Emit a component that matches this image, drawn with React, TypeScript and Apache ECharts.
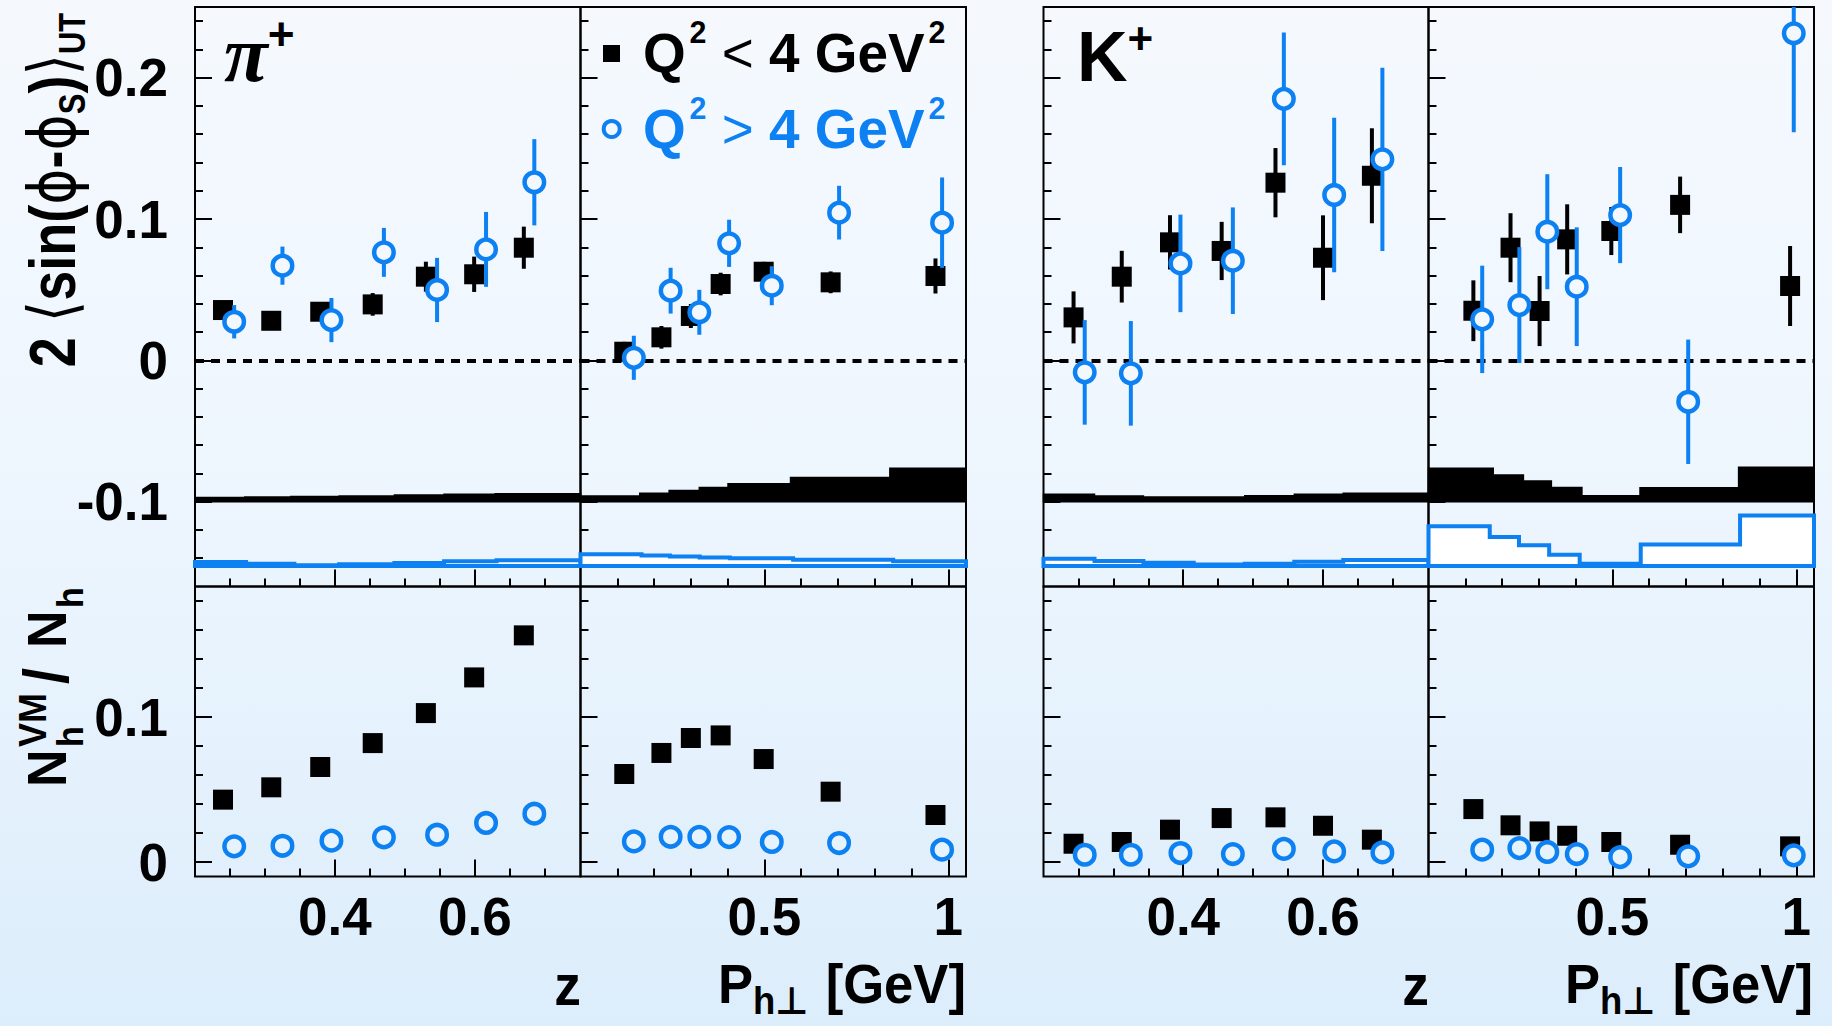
import React, { useEffect, useRef } from "react";
import * as echarts from "echarts";

const BLUE = "#0d80f2";
const SANS = "'Liberation Sans', Arial, 'DejaVu Sans', sans-serif";
const NARROW = "'Liberation Sans Narrow', 'Liberation Sans', Arial, sans-serif";
const SYM = "'DejaVu Sans', 'Liberation Sans', sans-serif";
const SERIF = "'Liberation Serif', 'DejaVu Serif', serif";

// ---------- tick values ----------
const yTopMajor = [-0.1, 0, 0.1, 0.2];
const yTopMinor = [-0.14, -0.12, -0.08, -0.06, -0.04, -0.02, 0.02, 0.04, 0.06, 0.08, 0.12, 0.14, 0.16, 0.18, 0.22, 0.24];
const yBotMajor = [0, 0.1];
const yBotMinor = [0.02, 0.04, 0.06, 0.08, 0.12, 0.14, 0.16, 0.18];
const zMajor = [0.4, 0.6];
const zMinor = [0.25, 0.3, 0.35, 0.45, 0.5, 0.55, 0.65, 0.7];
const pMajor = [0.5, 1];
const pMinor = [0.1, 0.2, 0.3, 0.4, 0.6, 0.7, 0.8, 0.9];

// ---------- pi+ vs z ----------
const piZBlackX = [0.24, 0.309, 0.379, 0.454, 0.53, 0.599, 0.67];
const piZBlackA = [0.0356, 0.028, 0.0344, 0.0396, 0.0592, 0.0609, 0.0797];
const piZBlackE = [0.003, 0.003, 0.005, 0.008, 0.0106, 0.0125, 0.0149];
const piZBlueX = [0.256, 0.325, 0.395, 0.47, 0.546, 0.616, 0.685];
const piZBlueA = [0.0273, 0.067, 0.0285, 0.0764, 0.0498, 0.0785, 0.126];
const piZBlueE = [0.0118, 0.0135, 0.0156, 0.0173, 0.0227, 0.0265, 0.0305];
const piZBlackR = [0.043, 0.0515, 0.0655, 0.082, 0.1027, 0.1273, 0.1563];
const piZBlueR = [0.0108, 0.0112, 0.0147, 0.017, 0.0188, 0.0269, 0.0333];
const piZSysEdgesBlack = [0.2, 0.271, 0.337, 0.406, 0.485, 0.556, 0.629, 0.751];
const piZSysBlack = [0.003, 0.0033, 0.0037, 0.004, 0.0047, 0.0052, 0.0056];
const piZSysEdgesBlue = [0.2, 0.273, 0.342, 0.406, 0.485, 0.556, 0.631, 0.751];
const piZSysBlue = [0.0028, 0.0016, 0.0006, 0.0013, 0.0021, 0.0033, 0.004];

// ---------- pi+ vs Ph ----------
const piPBlackX = [0.119, 0.22, 0.3, 0.381, 0.498, 0.68, 0.965];
const piPBlackA = [0.0061, 0.0163, 0.0314, 0.054, 0.0627, 0.0552, 0.0597];
const piPBlackE = [0.007, 0.008, 0.0085, 0.008, 0.007, 0.0077, 0.0124];
const piPBlueX = [0.145, 0.245, 0.323, 0.404, 0.52, 0.703, 0.983];
const piPBlueA = [0.0018, 0.0493, 0.034, 0.0828, 0.0528, 0.1045, 0.0974];
const piPBlueE = [0.0156, 0.0162, 0.0159, 0.0167, 0.0138, 0.019, 0.032];
const piPBlackR = [0.0607, 0.0752, 0.0855, 0.0873, 0.071, 0.0485, 0.0324];
const piPBlueR = [0.0142, 0.0174, 0.0174, 0.0172, 0.0138, 0.0131, 0.0085];
const piPSysEdgesBlack = [0, 0.161, 0.241, 0.323, 0.401, 0.571, 0.841, 1.048];
const piPSysBlack = [0.004, 0.0059, 0.008, 0.0101, 0.0127, 0.0172, 0.0236];
const piPSysEdgesBlue = [0, 0.166, 0.243, 0.324, 0.406, 0.578, 0.85, 1.048];
const piPSysBlue = [0.0084, 0.0075, 0.0068, 0.006, 0.0054, 0.0045, 0.0033];

// ---------- K+ vs z ----------
const kZBlackX = [0.243, 0.312, 0.381, 0.455, 0.532, 0.6, 0.67];
const kZBlackA = [0.0304, 0.0592, 0.0835, 0.0774, 0.1257, 0.0726, 0.1306];
const kZBlackE = [0.0184, 0.0183, 0.0192, 0.0206, 0.0245, 0.03, 0.0336];
const kZBlueX = [0.259, 0.325, 0.396, 0.471, 0.544, 0.616, 0.685];
const kZBlueA = [-0.0085, -0.0092, 0.0686, 0.0705, 0.185, 0.117, 0.1422];
const kZBlueE = [0.037, 0.037, 0.0345, 0.0377, 0.047, 0.0546, 0.0648];
const kZBlackR = [0.0126, 0.0138, 0.0223, 0.0303, 0.0308, 0.025, 0.0154];
const kZBlueR = [0.005, 0.005, 0.0062, 0.0055, 0.009, 0.0073, 0.0066];
const kZSysEdgesBlack = [0.2, 0.273, 0.343, 0.415, 0.488, 0.559, 0.629, 0.751];
const kZSysBlack = [0.0052, 0.004, 0.0033, 0.0033, 0.0042, 0.0052, 0.006];
const kZSysEdgesBlue = [0.2, 0.273, 0.343, 0.415, 0.488, 0.559, 0.629, 0.751];
const kZSysBlue = [0.0051, 0.0035, 0.0023, 0.001, 0.0016, 0.003, 0.0042];

// ---------- K+ vs Ph ----------
const kPBlackX = [0.122, 0.223, 0.302, 0.377, 0.497, 0.684, 0.983];
const kPBlackA = [0.0351, 0.0797, 0.0349, 0.0856, 0.0915, 0.11, 0.0526];
const kPBlackE = [0.0215, 0.0244, 0.0248, 0.0248, 0.017, 0.02, 0.0283];
const kPBlueX = [0.146, 0.247, 0.323, 0.403, 0.521, 0.706, 0.993];
const kPBlueA = [0.029, 0.0391, 0.091, 0.0521, 0.1028, -0.0293, 0.2314];
const kPBlueE = [0.038, 0.041, 0.0407, 0.042, 0.034, 0.044, 0.07];
const kPBlackR = [0.0365, 0.0253, 0.0211, 0.0181, 0.0138, 0.0119, 0.0108];
const kPBlueR = [0.0085, 0.0096, 0.0069, 0.0055, 0.0034, 0.0039, 0.0046];
const kPSysEdgesBlack = [0, 0.176, 0.258, 0.334, 0.417, 0.575, 0.843, 1.048];
const kPSysBlack = [0.0236, 0.0188, 0.0146, 0.0101, 0.0042, 0.0098, 0.0243];
const kPSysEdgesBlue = [0, 0.1665, 0.246, 0.328, 0.411, 0.577, 0.847, 1.048];
const kPSysBlue = [0.0282, 0.0205, 0.0146, 0.0079, 0.0016, 0.0153, 0.0358];

const SYS_BASE_BLACK = -0.1;
const SYS_BASE_BLUE = -0.1455;

const PANELS = [
  { left: 195, width: 385.5, xMin: 0.2, xMax: 0.751, xMajor: zMajor, xMinor: zMinor, yLabels: true,
    bX: piZBlackX, bA: piZBlackA, bE: piZBlackE, cX: piZBlueX, cA: piZBlueA, cE: piZBlueE, bR: piZBlackR, cR: piZBlueR,
    sbE: piZSysEdgesBlack, sbH: piZSysBlack, scE: piZSysEdgesBlue, scH: piZSysBlue },
  { left: 580.5, width: 385.5, xMin: 0, xMax: 1.048, xMajor: pMajor, xMinor: pMinor, yLabels: false,
    bX: piPBlackX, bA: piPBlackA, bE: piPBlackE, cX: piPBlueX, cA: piPBlueA, cE: piPBlueE, bR: piPBlackR, cR: piPBlueR,
    sbE: piPSysEdgesBlack, sbH: piPSysBlack, scE: piPSysEdgesBlue, scH: piPSysBlue },
  { left: 1043.5, width: 385, xMin: 0.2, xMax: 0.751, xMajor: zMajor, xMinor: zMinor, yLabels: false,
    bX: kZBlackX, bA: kZBlackA, bE: kZBlackE, cX: kZBlueX, cA: kZBlueA, cE: kZBlueE, bR: kZBlackR, cR: kZBlueR,
    sbE: kZSysEdgesBlack, sbH: kZSysBlack, scE: kZSysEdgesBlue, scH: kZSysBlue },
  { left: 1428.5, width: 385.5, xMin: 0, xMax: 1.048, xMajor: pMajor, xMinor: pMinor, yLabels: false,
    bX: kPBlackX, bA: kPBlackA, bE: kPBlackE, cX: kPBlueX, cA: kPBlueA, cE: kPBlueE, bR: kPBlackR, cR: kPBlueR,
    sbE: kPSysEdgesBlack, sbH: kPSysBlack, scE: kPSysEdgesBlue, scH: kPSysBlue },
];

const labelStyle = { fontSize: 53, fontWeight: "bold", fontFamily: NARROW, color: "#000" };

function makeX(g: number, p: any, major: boolean, labels: boolean) {
  return {
    type: "value", gridIndex: g, position: "bottom", min: p.xMin, max: p.xMax,
    axisLine: { show: false, onZero: false }, splitLine: { show: false },
    axisTick: { show: true, inside: true, length: major ? 17 : 8, customValues: major ? p.xMajor : p.xMinor, lineStyle: { color: "#000", width: 2 } },
    axisLabel: { show: labels, customValues: p.xMajor, formatter: (v: number) => String(v), margin: 13, ...labelStyle },
  };
}
function makeY(g: number, row: number, major: boolean, labels: boolean) {
  const maj = row ? yBotMajor : yTopMajor;
  const min = row ? yBotMinor : yTopMinor;
  return {
    type: "value", gridIndex: g, position: "left", min: row ? -0.01 : -0.16, max: row ? 0.19 : 0.25,
    axisLine: { show: false, onZero: false }, splitLine: { show: false },
    axisTick: { show: true, inside: true, length: major ? 17 : 8, customValues: major ? maj : min, lineStyle: { color: "#000", width: 2 } },
    axisLabel: { show: labels, customValues: maj, formatter: (v: number) => String(Math.round(v * 10) / 10), margin: 27, ...labelStyle },
  };
}

function bandSeries(g: number, edges: number[], h: number[], base: number, fill: string, stroke: string, lw: number, z: number, extra: any = {}) {
  return {
    type: "custom", xAxisIndex: 2 * g, yAxisIndex: 2 * g, z, silent: true,
    data: [[edges[0], base]],
    renderItem: (_params: any, api: any) => {
      const pts: number[][] = [];
      pts.push(api.coord([edges[0], base]));
      for (let k = 0; k < h.length; k++) {
        pts.push(api.coord([edges[k], base + h[k]]));
        pts.push(api.coord([edges[k + 1], base + h[k]]));
      }
      pts.push(api.coord([edges[edges.length - 1], base]));
      return { type: "polygon", shape: { points: pts }, style: { fill, stroke, lineWidth: lw } };
    },
    ...extra,
  };
}

function errSeries(g: number, xs: number[], ys: number[], es: number[], color: string, z: number) {
  return {
    type: "custom", xAxisIndex: 2 * g, yAxisIndex: 2 * g, z, silent: true,
    data: xs.map((x, k) => [x, ys[k], es[k]]),
    renderItem: (params: any, api: any) => {
      const x = api.value(0), y = api.value(1), e = api.value(2);
      const top = api.coord([x, y + e]);
      const bot = api.coord([x, y - e]);
      const cs = params.coordSys;
      const y1 = Math.max(top[1], cs.y);
      const y2 = Math.min(bot[1], cs.y + cs.height);
      return { type: "line", shape: { x1: top[0], y1, x2: top[0], y2 }, style: { stroke: color, lineWidth: 4 } };
    },
  };
}

function squares(g: number, xs: number[], ys: number[], z: number) {
  return {
    type: "scatter", xAxisIndex: 2 * g, yAxisIndex: 2 * g, z, silent: true, symbol: "rect", symbolSize: 20,
    itemStyle: { color: "#000", opacity: 1 }, data: xs.map((x, k) => [x, ys[k]]),
  };
}
function circles(g: number, xs: number[], ys: number[], z: number, fill: string) {
  return {
    type: "scatter", xAxisIndex: 2 * g, yAxisIndex: 2 * g, z, silent: true, symbol: "circle", symbolSize: 19.5,
    itemStyle: { color: fill, borderColor: BLUE, borderWidth: 4.5, opacity: 1 }, data: xs.map((x, k) => [x, ys[k]]),
  };
}

function buildOption() {
  const grid: any[] = [], xAxis: any[] = [], yAxis: any[] = [], series: any[] = [];
  for (const row of [0, 1]) {
    PANELS.forEach((p, i) => {
      const g = row * 4 + i;
      grid.push({ left: p.left, width: p.width, top: row ? 586.5 : 7, height: row ? 290 : 579.5, show: true,
        borderColor: "#000", borderWidth: 2, backgroundColor: "transparent" });
      xAxis.push(makeX(g, p, true, row === 1));
      xAxis.push(makeX(g, p, false, false));
      yAxis.push(makeY(g, row, true, p.yLabels));
      yAxis.push(makeY(g, row, false, false));
    });
  }
  PANELS.forEach((p, i) => {
    const g = i;
    series.push(bandSeries(g, p.scE, p.scH, SYS_BASE_BLUE, "#ffffff", BLUE, 4, 2));
    series.push(bandSeries(g, p.sbE, p.sbH, SYS_BASE_BLACK, "#000", "#000", 1.5, 3, {
      markLine: { silent: true, symbol: "none", label: { show: false }, data: [{ yAxis: 0 }],
        lineStyle: { color: "#000", width: 4, type: [9, 7] } },
    }));
    series.push(errSeries(g, p.bX, p.bA, p.bE, "#000", 4));
    series.push(squares(g, p.bX, p.bA, 5));
    series.push(errSeries(g, p.cX, p.cA, p.cE, BLUE, 6));
    series.push(circles(g, p.cX, p.cA, 7, "#f2f8fe"));
    const gb = 4 + i;
    series.push(squares(gb, p.bX, p.bR, 5));
    series.push(circles(gb, p.cX, p.cR, 7, "#e6f2fc"));
  });

  const bold = (size: number, fill = "#000") => ({ fontSize: size, fontWeight: "bold", fontFamily: SANS, fill, verticalAlign: "middle" });
  const graphic: any[] = [
    // y title top
    {
      type: "text", x: 52.5, y: 190, rotation: Math.PI / 2, scaleY: 1.2, z: 100, silent: true,
      style: {
        text: "{m|2 }{t|⟨}{m|sin(}{t|ϕ}{m|-}{t|ϕ}{s|S}{m|)}{t|⟩}{s|UT}", align: "center", verticalAlign: "middle",
        rich: {
          m: bold(54),
          t: { fontSize: 55, fontWeight: "normal", fontFamily: SYM, fill: "#000", verticalAlign: "middle" },
          s: { ...bold(31), padding: [32, 0, 0, 0] },
        },
      },
    },
    // y title bottom
    {
      type: "group", x: 46.7, y: 787, rotation: Math.PI / 2, scaleY: 1.08, z: 100, silent: true,
      children: [
        { type: "text", x: 0, y: 0, style: { text: "N", align: "left", ...bold(52) } },
        { type: "text", x: 40, y: 22, style: { text: "h", align: "left", ...bold(34) } },
        { type: "text", x: 40, y: -13, style: { text: "VM", align: "left", ...bold(36) } },
        { type: "text", x: 103, y: 0, style: { text: "/", align: "left", ...bold(58) } },
        { type: "text", x: 139, y: 0, style: { text: "N", align: "left", ...bold(52) } },
        { type: "text", x: 179, y: 22, style: { text: "h", align: "left", ...bold(34) } },
      ],
    },
    // legend
    { type: "rect", shape: { x: 603, y: 45, width: 17, height: 17 }, style: { fill: "#000" }, z: 100 },
    { type: "circle", shape: { cx: 611.7, cy: 129, r: 8 }, style: { fill: "none", stroke: BLUE, lineWidth: 4 }, z: 100 },
    {
      type: "text", x: 643, y: 53, scaleX: 0.98, z: 100, silent: true,
      style: {
        text: "{b|Q}{sup|2}{op| < }{b|4 GeV}{sup|2}", align: "left", verticalAlign: "middle",
        rich: {
          b: bold(56), sup: { ...bold(31), padding: [0, 0, 41, 4] },
          op: { fontSize: 56, fontWeight: "normal", fontFamily: SANS, fill: "#000", verticalAlign: "middle" },
        },
      },
    },
    {
      type: "text", x: 643, y: 129, scaleX: 0.98, z: 100, silent: true,
      style: {
        text: "{b|Q}{sup|2}{op| > }{b|4 GeV}{sup|2}", align: "left", verticalAlign: "middle",
        rich: {
          b: bold(56, BLUE), sup: { ...bold(31, BLUE), padding: [0, 0, 41, 4] },
          op: { fontSize: 56, fontWeight: "normal", fontFamily: SANS, fill: BLUE, verticalAlign: "middle" },
        },
      },
    },
    // hadron labels
    {
      type: "text", x: 224, y: 54, z: 100, silent: true,
      style: {
        text: "{p|π}{s|+}", align: "left", verticalAlign: "middle",
        rich: {
          p: { fontSize: 80, fontStyle: "italic", fontWeight: "bold", fontFamily: SERIF, fill: "#000", verticalAlign: "middle" },
          s: { ...bold(46), padding: [0, 0, 40, 0] },
        },
      },
    },
    {
      type: "text", x: 1077, y: 56.5, z: 100, silent: true,
      style: {
        text: "{p|K}{s|+}", align: "left", verticalAlign: "middle",
        rich: {
          p: { fontSize: 70, fontWeight: "bold", fontFamily: SANS, fill: "#000", verticalAlign: "middle" },
          s: { ...bold(44), padding: [0, 0, 36, 0] },
        },
      },
    },
  ];
  // axis names
  for (const xr of [581, 1429]) {
    graphic.push({ type: "text", x: xr, y: 985, scaleX: 0.92, z: 100, silent: true, style: { text: "z", align: "right", ...bold(58) } });
  }
  for (const xr of [966, 1813]) {
    graphic.push({ type: "text", x: xr - 248, y: 984, scaleX: 0.94, z: 100, silent: true, style: { text: "P", align: "left", ...bold(56) } });
    graphic.push({ type: "text", x: xr - 213, y: 1001, scaleX: 0.96, z: 100, silent: true, style: { text: "h⊥", align: "left", ...bold(38) } });
    graphic.push({ type: "text", x: xr, y: 984, scaleX: 0.94, z: 100, silent: true, style: { text: "[GeV]", align: "right", ...bold(56) } });
  }

  return { animation: false, backgroundColor: "transparent", grid, xAxis, yAxis, series, graphic };
}

export default function App() {
  const ref = useRef<HTMLDivElement>(null);
  useEffect(() => {
    if (!ref.current) return;
    const chart = echarts.init(ref.current, null, { renderer: "svg" });
    chart.setOption(buildOption() as any);
    return () => chart.dispose();
  }, []);
  return (
    <div
      style={{
        position: "fixed", left: 0, top: 0, width: 1832, height: 1026,
        background: "linear-gradient(to bottom, #f5f9fe 0%, #eef6fe 45%, #dcedfb 100%)",
      }}
    >
      <div ref={ref} style={{ width: 1832, height: 1026 }} />
    </div>
  );
}
